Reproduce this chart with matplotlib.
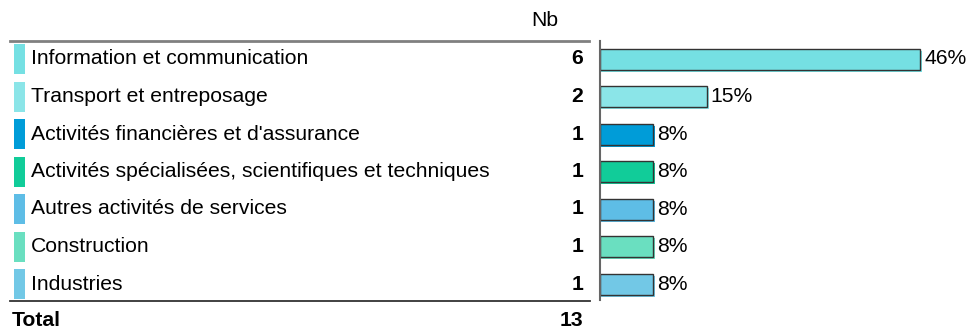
import matplotlib
matplotlib.use("Agg")
import matplotlib.pyplot as plt

plt.rcParams['font.family'] = ['Liberation Sans', 'DejaVu Sans']

# secteurs d'activite, effectifs et part du total
secteurs = ["Information et communication",
            "Transport et entreposage",
            "Activités financières et d'assurance",
            "Activités spécialisées, scientifiques et techniques",
            "Autres activités de services",
            "Construction",
            "Industries"]
nb = [6, 2, 1, 1, 1, 1, 1]
couleurs = ["#75E0E3", "#8BE5E8", "#009CD8", "#11CC99",
            "#5EBDE6", "#6ADFC0", "#72C8E6"]
total = sum(nb)
parts = [100.0 * n / total for n in nb]
lignes = list(range(len(secteurs)))

W, H = 971, 329
fs = 15.2
fig = plt.figure(figsize=(W / 100, H / 100), dpi=100)

# tableau de gauche : une unite = une ligne, x en pixels
row0, pas = 59.0, 37.5
tab = fig.add_axes([0, 0, 600 / W, 1])
tab.set_xlim(0, 600)
tab.set_ylim((H - row0) / pas, -row0 / pas)
tab.axis("off")

tab.barh(lignes, [11] * len(lignes), left=14, height=0.8, color=couleurs)
for i, (s, n) in enumerate(zip(secteurs, nb)):
    tab.text(31, i, s, fontsize=fs, va="center", ha="left")
    tab.text(583, i, str(n), fontsize=fs, va="center", ha="right", fontweight="bold")
tab.text(545, -1.03, "Nb", fontsize=fs, va="center", ha="center")
tab.text(12, 6.96, "Total", fontsize=fs, va="center", ha="left", fontweight="bold")
tab.text(583, 6.96, str(total), fontsize=fs, va="center", ha="right", fontweight="bold")
tab.plot([10, 589], [(41 - row0) / pas] * 2, color="#808080", lw=2)
tab.plot([10, 590], [(301 - row0) / pas] * 2, color="#333333", lw=1.3)

# barres des pourcentages
top, bottom = 41, 300
ax = fig.add_axes([600 / W, 1 - bottom / H, (W - 600) / W, (bottom - top) / H])
echelle = 320 / max(parts)  # pixels par point de pourcentage
ax.set_xlim(0, (W - 600) / echelle)
ax.set_ylim((bottom - row0) / pas, (top - row0) / pas)
for side in ["top", "right", "bottom"]:
    ax.spines[side].set_visible(False)
ax.spines["left"].set_color("#666666")
ax.spines["left"].set_linewidth(1.5)
ax.set_xticks([])
ax.set_yticks([])
ax.patch.set_alpha(0)

dx, dy = 2 / echelle, 2 / pas
ax.barh([l + dy for l in lignes], [p + dx for p in parts], height=0.56,
        color=couleurs, zorder=1)
ax.barh(lignes, parts, height=0.56, color=couleurs, edgecolor="#333333",
        linewidth=1, zorder=2)
for i, p in enumerate(parts):
    ax.text(p + 4 / echelle, i, "%d%%" % round(p), fontsize=fs, va="center", ha="left")

fig.savefig("out.png", dpi=100)
